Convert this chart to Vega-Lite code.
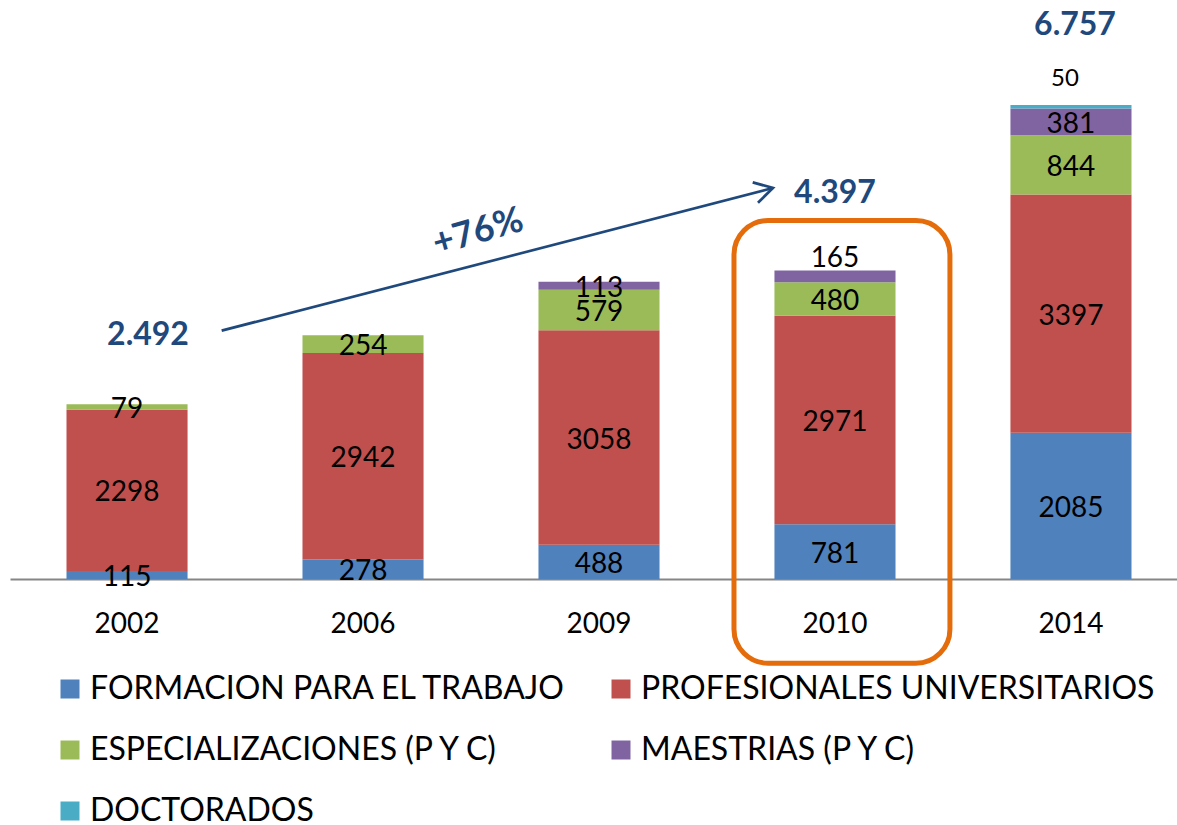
{
  "$schema": "https://vega.github.io/schema/vega-lite/v6.json",
  "width": 1167,
  "height": 579,
  "autosize": {"type": "none"},
  "padding": {"left": 10, "top": 0, "right": 0, "bottom": 246},
  "background": "white",
  "config": {"view": {"stroke": null}, "font": "Lato"},
  "datasets": {
    "edu": [
      {"anio": "2002", "nivel": "FORMACION PARA EL TRABAJO", "k": 1, "valor": 115},
      {"anio": "2002", "nivel": "PROFESIONALES UNIVERSITARIOS", "k": 2, "valor": 2298},
      {"anio": "2002", "nivel": "ESPECIALIZACIONES (P Y C)", "k": 3, "valor": 79},
      {"anio": "2006", "nivel": "FORMACION PARA EL TRABAJO", "k": 1, "valor": 278},
      {"anio": "2006", "nivel": "PROFESIONALES UNIVERSITARIOS", "k": 2, "valor": 2942},
      {"anio": "2006", "nivel": "ESPECIALIZACIONES (P Y C)", "k": 3, "valor": 254},
      {"anio": "2009", "nivel": "FORMACION PARA EL TRABAJO", "k": 1, "valor": 488},
      {"anio": "2009", "nivel": "PROFESIONALES UNIVERSITARIOS", "k": 2, "valor": 3058},
      {"anio": "2009", "nivel": "ESPECIALIZACIONES (P Y C)", "k": 3, "valor": 579},
      {"anio": "2009", "nivel": "MAESTRIAS (P Y C)", "k": 4, "valor": 113},
      {"anio": "2010", "nivel": "FORMACION PARA EL TRABAJO", "k": 1, "valor": 781},
      {"anio": "2010", "nivel": "PROFESIONALES UNIVERSITARIOS", "k": 2, "valor": 2971},
      {"anio": "2010", "nivel": "ESPECIALIZACIONES (P Y C)", "k": 3, "valor": 480},
      {"anio": "2010", "nivel": "MAESTRIAS (P Y C)", "k": 4, "valor": 165},
      {"anio": "2014", "nivel": "FORMACION PARA EL TRABAJO", "k": 1, "valor": 2085},
      {"anio": "2014", "nivel": "PROFESIONALES UNIVERSITARIOS", "k": 2, "valor": 3397},
      {"anio": "2014", "nivel": "ESPECIALIZACIONES (P Y C)", "k": 3, "valor": 844},
      {"anio": "2014", "nivel": "MAESTRIAS (P Y C)", "k": 4, "valor": 381},
      {"anio": "2014", "nivel": "DOCTORADOS", "k": 5, "valor": 50}
    ],
    "totales": [
      {"t": "2.492", "px": 0.089, "py": 3521},
      {"t": "4.397", "px": 3.0, "py": 5545},
      {"t": "6.757", "px": 4.017, "py": 7940}
    ],
    "pct": [{"t": "+76%", "px": 1.487, "py": 4946}],
    "flecha": [{"x1": 0.401, "y1": 3540, "x2": 2.737, "y2": 5574}],
    "caja": [{"x1": 2.572, "x2": 3.487, "y1": 5110, "y2": -1200}]
  },
  "resolve": {"scale": {"x": "independent"}},
  "layer": [
    {
      "layer": [
        {
          "data": {"name": "edu"},
          "mark": {"type": "bar"},
          "encoding": {
            "x": {
              "field": "anio", "type": "ordinal",
              "scale": {"type": "band", "range": [0, 1178], "paddingInner": 0.487, "paddingOuter": 0.2394},
              "axis": {
                "title": null, "domainColor": "#868686", "domainWidth": 2, "ticks": false,
                "labelFontSize": 28, "labelFont": "Lato", "labelColor": "black",
                "labelPadding": 31, "labelAngle": 0, "grid": false
              }
            },
            "y": {
              "field": "valor", "type": "quantitative", "stack": "zero",
              "scale": {"domain": [0, 8254], "nice": false, "zero": true},
              "axis": null
            },
            "color": {
              "field": "nivel", "type": "nominal",
              "scale": {
                "domain": ["FORMACION PARA EL TRABAJO", "ESPECIALIZACIONES (P Y C)", "DOCTORADOS", "PROFESIONALES UNIVERSITARIOS", "MAESTRIAS (P Y C)"],
                "range": ["#4F81BD", "#9BBB59", "#4BACC6", "#C0504D", "#8064A2"]
              },
              "legend": {
                "orient": "none", "legendX": 44, "legendY": 673, "columns": 2,
                "title": null, "symbolType": "square", "symbolSize": 361, "symbolStrokeWidth": 0,
                "labelFontSize": 32, "labelFont": "Lato", "labelColor": "black",
                "labelOffset": 4, "rowPadding": 29, "columnPadding": 38, "labelLimit": 700
              }
            },
            "order": {"field": "k", "type": "quantitative", "sort": "ascending"}
          }
        },
        {
          "data": {"name": "edu"},
          "transform": [
            {"stack": "valor", "groupby": ["anio"], "sort": [{"field": "k", "order": "ascending"}], "as": ["v0", "v1"]},
            {"calculate": "(datum.v0 + datum.v1) / 2", "as": "mid"},
            {"filter": "datum.nivel != 'DOCTORADOS' && !(datum.anio == '2010' && datum.nivel == 'MAESTRIAS (P Y C)')"}
          ],
          "mark": {"type": "text", "fontSize": 28, "font": "Lato", "color": "black", "baseline": "middle", "dy": 3},
          "encoding": {
            "x": {"field": "anio", "type": "ordinal"},
            "y": {"field": "mid", "type": "quantitative", "stack": null},
            "text": {"field": "valor", "type": "quantitative", "format": "d"}
          }
        },
        {
          "data": {"name": "edu"},
          "transform": [
            {"stack": "valor", "groupby": ["anio"], "sort": [{"field": "k", "order": "ascending"}], "as": ["v0", "v1"]},
            {"calculate": "(datum.v0 + datum.v1) / 2", "as": "mid"},
            {"filter": "datum.anio == '2010' && datum.nivel == 'MAESTRIAS (P Y C)'"}
          ],
          "mark": {"type": "text", "fontSize": 28, "font": "Lato", "color": "black", "baseline": "middle", "dy": -17},
          "encoding": {
            "x": {"field": "anio", "type": "ordinal"},
            "y": {"field": "mid", "type": "quantitative", "stack": null},
            "text": {"field": "valor", "type": "quantitative", "format": "d"}
          }
        },
        {
          "data": {"name": "edu"},
          "transform": [
            {"stack": "valor", "groupby": ["anio"], "sort": [{"field": "k", "order": "ascending"}], "as": ["v0", "v1"]},
            {"calculate": "(datum.v0 + datum.v1) / 2", "as": "mid"},
            {"filter": "datum.nivel == 'DOCTORADOS'"}
          ],
          "mark": {"type": "text", "fontSize": 24, "font": "Lato", "color": "black", "baseline": "middle", "dy": -28, "dx": -6},
          "encoding": {
            "x": {"field": "anio", "type": "ordinal"},
            "y": {"field": "mid", "type": "quantitative", "stack": null},
            "text": {"field": "valor", "type": "quantitative", "format": "d"}
          }
        }
      ]
    },
    {
      "layer": [
        {
          "data": {"name": "caja"},
          "mark": {"type": "rect", "cornerRadius": 34, "fillOpacity": 0, "fill": "white", "stroke": "#E46C0A", "strokeWidth": 5},
          "encoding": {
            "x": {"field": "x1", "type": "quantitative", "scale": {"domain": [-0.49576, 4.49576], "range": [0, 1178], "nice": false, "zero": false}, "axis": null},
            "x2": {"field": "x2"},
            "y": {"field": "y1", "type": "quantitative"},
            "y2": {"field": "y2"}
          }
        },
        {
          "data": {"name": "flecha"},
          "mark": {"type": "rule", "color": "#1F497D", "strokeWidth": 2.75},
          "encoding": {
            "x": {"field": "x1", "type": "quantitative"},
            "x2": {"field": "x2"},
            "y": {"field": "y1", "type": "quantitative"},
            "y2": {"field": "y2"}
          }
        },
        {
          "data": {"name": "flecha"},
          "mark": {"type": "point", "shape": "M -1 -0.58 L 0 0 L -1 0.58", "filled": false, "stroke": "#1F497D", "strokeWidth": 2.75, "size": 1320, "angle": -14.5, "opacity": 1},
          "encoding": {
            "x": {"field": "x2", "type": "quantitative"},
            "y": {"field": "y2", "type": "quantitative"}
          }
        },
        {
          "data": {"name": "totales"},
          "mark": {"type": "text", "fontSize": 32, "font": "Lato", "fontWeight": "bold", "color": "#1F497D", "baseline": "middle", "dy": 3},
          "encoding": {
            "x": {"field": "px", "type": "quantitative"},
            "y": {"field": "py", "type": "quantitative"},
            "text": {"field": "t"}
          }
        },
        {
          "data": {"name": "pct"},
          "mark": {"type": "text", "fontSize": 36, "font": "Lato", "fontWeight": "bold", "color": "#1F497D", "baseline": "middle", "angle": -16},
          "encoding": {
            "x": {"field": "px", "type": "quantitative"},
            "y": {"field": "py", "type": "quantitative"},
            "text": {"field": "t"}
          }
        }
      ]
    }
  ]
}
